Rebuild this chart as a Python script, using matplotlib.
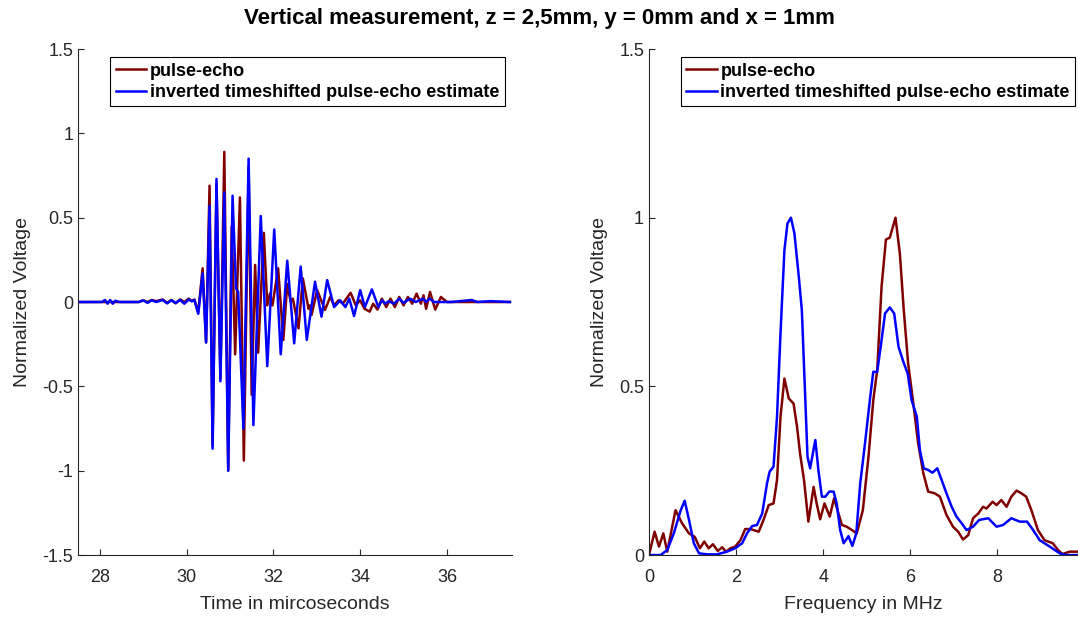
import matplotlib
matplotlib.use("Agg")
import matplotlib.pyplot as plt

# time signal (microseconds, normalized voltage)
t_pe = [27.5, 28.9, 29.0, 29.1, 29.2, 29.3, 29.45, 29.55, 29.65, 29.75, 29.85, 29.95,
        30.05, 30.12, 30.18, 30.27, 30.37, 30.45, 30.53, 30.60, 30.69, 30.78, 30.87,
        30.96, 31.04, 31.12, 31.23, 31.32, 31.43, 31.50, 31.58, 31.65, 31.78, 31.86,
        31.92, 31.98, 32.11, 32.23, 32.32, 32.40, 32.45, 32.58, 32.68, 32.81, 32.84,
        32.88, 33.01, 33.19, 33.31, 33.40, 33.5, 33.6, 33.78, 33.9, 34.0, 34.1, 34.22,
        34.3, 34.4, 34.5, 34.6, 34.7, 34.8, 34.9, 35.0, 35.1, 35.2, 35.3, 35.4, 35.46,
        35.52, 35.61, 35.73, 35.86, 36.0, 36.3, 37.45]
v_pe = [0, 0, 0.01, 0.0, 0.012, 0.005, 0.015, -0.005, 0.012, -0.008, 0.015, 0.0,
        0.02, 0.005, 0.015, -0.06, 0.2, -0.24, 0.69, -0.85, 0.70, -0.45, 0.89,
        -1.0, 0.45, -0.31, 0.62, -0.94, 0.80, -0.55, 0.22, -0.30, 0.41, -0.02,
        0.05, -0.02, 0.20, -0.225, 0.107, 0.0, 0.02, -0.156, 0.14, -0.04, -0.02,
        -0.077, 0.07, -0.047, 0.03, -0.02, 0.01, -0.01, 0.055, -0.02, 0.01, -0.04, -0.057,
        -0.01, -0.045, 0.02, -0.03, 0.02, -0.03, 0.03, -0.02, 0.03, -0.01, 0.05, -0.01, 0.04,
        -0.04, 0.06, -0.045, 0.03, 0, 0, 0]

t_est = [27.5, 28.05, 28.12, 28.18, 28.24, 28.30, 28.36, 28.45, 28.9, 29.0, 29.1, 29.2,
         29.3, 29.45, 29.55, 29.65, 29.75, 29.85, 29.95, 30.05, 30.12, 30.18, 30.27,
         30.37, 30.45, 30.53, 30.60, 30.69, 30.78, 30.87, 30.96, 31.06, 31.14, 31.19,
         31.31, 31.43, 31.54, 31.71, 31.86, 32.02, 32.17, 32.32, 32.48, 32.63, 32.77,
         32.96, 33.11, 33.24, 33.40, 33.54, 33.66, 33.75, 33.86, 34.0, 34.11, 34.27,
         34.42, 34.5, 34.58, 34.66, 34.78, 34.9, 35.0, 35.15, 35.28, 35.45, 35.52,
         35.6, 35.7, 35.9, 36.1, 36.3, 36.57, 36.7, 37.0, 37.45]
v_est = [0, 0, 0.012, -0.01, 0.012, -0.01, 0.008, 0, 0, 0.01, -0.005, 0.01,
         0, 0.012, -0.008, 0.01, -0.005, 0.012, -0.01, 0.015, 0.005, 0.012, -0.07,
         0.17, -0.24, 0.57, -0.87, 0.73, -0.47, 0.65, -1.0, 0.63, 0.08, 0.06,
         -0.75, 0.85, -0.73, 0.51, -0.38, 0.43, -0.31, 0.245, -0.245, 0.21, -0.225,
         0.12, -0.087, 0.13, -0.03, 0.01, -0.03, 0.02, -0.083, 0.07, -0.03, 0.075,
         -0.03, 0.01, -0.01, 0.005, -0.01, 0.02, -0.005, 0.02, 0.0, 0.02, 0,
         0.02, 0, 0, 0, 0.005, 0.012, 0, 0.005, 0]

# spectrum (MHz, normalized)
f_pe = [0, 0.13, 0.23, 0.33, 0.42, 0.61, 0.76, 0.92, 1.05, 1.17, 1.27, 1.37, 1.47,
        1.58, 1.68, 1.77, 1.87, 1.98, 2.1, 2.21, 2.33, 2.52, 2.63, 2.75, 2.86, 2.94,
        3.02, 3.11, 3.21, 3.32, 3.40, 3.47, 3.56, 3.66, 3.78, 3.85, 3.93, 4.03, 4.15,
        4.25, 4.35, 4.43, 4.54, 4.66, 4.77, 4.91, 5.04, 5.15, 5.24, 5.34, 5.44, 5.53,
        5.66, 5.76, 5.85, 5.95, 6.07, 6.18, 6.30, 6.41, 6.56, 6.68, 6.83, 6.98, 7.10,
        7.21, 7.33, 7.44, 7.56, 7.67, 7.75, 7.89, 7.98, 8.09, 8.21, 8.32, 8.44, 8.55,
        8.66, 8.78, 8.93, 9.08, 9.27, 9.39, 9.49, 9.66, 9.85]
s_pe = [0, 0.069, 0.025, 0.064, 0.01, 0.133, 0.094, 0.064, 0.054, 0.02, 0.04, 0.02, 0.032,
        0.012, 0.023, 0.01, 0.02, 0.025, 0.044, 0.077, 0.077, 0.069, 0.104, 0.148, 0.153, 0.222,
        0.41, 0.523, 0.464, 0.449, 0.38, 0.30, 0.222, 0.099, 0.202, 0.153, 0.106, 0.153, 0.114,
        0.168, 0.123, 0.089, 0.084, 0.074, 0.064, 0.133, 0.291, 0.459, 0.548, 0.795, 0.935, 0.941,
        1.0, 0.894, 0.726, 0.568, 0.449, 0.331, 0.242, 0.188, 0.183, 0.173, 0.119, 0.084, 0.069,
        0.046, 0.059, 0.109, 0.123, 0.143, 0.138, 0.158, 0.148, 0.163, 0.143, 0.173, 0.191, 0.183,
        0.173, 0.133, 0.074, 0.044, 0.035, 0.015, 0.003, 0.01, 0.01]

f_est = [0, 0.27, 0.42, 0.57, 0.73, 0.82, 0.92, 1.03, 1.15, 1.34, 1.56, 1.79, 1.98,
         2.14, 2.25, 2.37, 2.48, 2.60, 2.71, 2.77, 2.86, 2.94, 3.02, 3.11, 3.18, 3.26,
         3.34, 3.44, 3.51, 3.59, 3.64, 3.70, 3.82, 3.89, 3.97, 4.05, 4.14, 4.24, 4.31,
         4.39, 4.47, 4.58, 4.67, 4.76, 4.85, 4.96, 5.08, 5.15, 5.24, 5.32, 5.42, 5.53,
         5.63, 5.73, 5.84, 5.94, 6.03, 6.15, 6.22, 6.31, 6.41, 6.51, 6.62, 6.72, 6.83,
         6.95, 7.06, 7.18, 7.29, 7.44, 7.58, 7.79, 7.98, 8.13, 8.32, 8.51, 8.68, 8.82,
         8.97, 9.20, 9.43, 9.58, 9.85]
s_est = [0, 0, 0.015, 0.064, 0.133, 0.161, 0.104, 0.035, 0.005, 0.002, 0.002, 0.01, 0.02,
         0.035, 0.064, 0.086, 0.089, 0.123, 0.212, 0.247, 0.262, 0.41, 0.657, 0.904, 0.983, 1.0,
         0.953, 0.825, 0.726, 0.459, 0.291, 0.257, 0.341, 0.252, 0.173, 0.173, 0.188, 0.188, 0.153,
         0.074, 0.035, 0.056, 0.027, 0.064, 0.212, 0.331, 0.469, 0.543, 0.543, 0.617, 0.716, 0.734,
         0.716, 0.617, 0.573, 0.538, 0.459, 0.41, 0.311, 0.257, 0.252, 0.244, 0.257, 0.222, 0.183,
         0.143, 0.114, 0.094, 0.074, 0.084, 0.104, 0.109, 0.084, 0.089, 0.109, 0.099, 0.099, 0.074,
         0.044, 0.025, 0.005, 0, 0]

labels = ['pulse-echo', 'inverted timeshifted pulse-echo estimate']
red = '#800000'
blue = '#0000ff'
grey = '#262626'

plt.rcParams['font.family'] = ['Liberation Sans', 'DejaVu Sans']
plt.rcParams['axes.unicode_minus'] = False

fig = plt.figure(figsize=(10.78, 6.18), dpi=100)
ax1 = fig.add_axes([0.0724, 0.1019, 0.4026, 0.8188])
ax2 = fig.add_axes([0.602, 0.1019, 0.398, 0.8188])


def style(ax):
    for s in ['top', 'right']:
        ax.spines[s].set_visible(False)
    for s in ['left', 'bottom']:
        ax.spines[s].set_color(grey)
        ax.spines[s].set_linewidth(0.8)
    ax.tick_params(direction='in', length=4, width=0.8, colors=grey, labelsize=13)
    ax.tick_params(axis='x', pad=10)
    ax.xaxis.labelpad = 7
    ax.yaxis.labelpad = 8
    ax.legend(labels, loc='upper left', bbox_to_anchor=(0.074, 0.984),
              prop={'weight': 'bold', 'size': 13}, fancybox=False, edgecolor='black',
              framealpha=1, handlelength=1.7, handletextpad=0.2, borderpad=0.3,
              labelspacing=0.25, borderaxespad=0)
    ax.get_legend().get_frame().set_linewidth(0.8)


ax1.plot(t_pe, v_pe, color=red, lw=1.8)
ax1.plot(t_est, v_est, color=blue, lw=1.8)
ax1.set_xlim(27.5, 37.5)
ax1.set_ylim(-1.5, 1.5)
ax1.set_xticks([28, 30, 32, 34, 36])
ax1.set_yticks([-1.5, -1, -0.5, 0, 0.5, 1, 1.5])
ax1.set_yticklabels(['-1.5', '-1', '-0.5', '0', '0.5', '1', '1.5'])
ax1.set_xlabel('Time in mircoseconds', fontsize=14, color=grey)
ax1.set_ylabel('Normalized Voltage', fontsize=14, color=grey)
style(ax1)

ax2.plot(f_pe, s_pe, color=red, lw=1.8)
ax2.plot(f_est, s_est, color=blue, lw=1.8)
ax2.set_xlim(0, 9.85)
ax2.set_ylim(0, 1.5)
ax2.set_xticks([0, 2, 4, 6, 8])
ax2.set_yticks([0, 0.5, 1, 1.5])
ax2.set_yticklabels(['0', '0.5', '1', '1.5'])
ax2.set_xlabel('Frequency in MHz', fontsize=14, color=grey)
ax2.set_ylabel('Normalized Voltage', fontsize=14, color=grey)
style(ax2)

fig.suptitle('Vertical measurement, z = 2,5mm, y = 0mm and x = 1mm',
             fontsize=16, fontweight='bold', y=0.987)

fig.savefig('out.png', dpi=100)
